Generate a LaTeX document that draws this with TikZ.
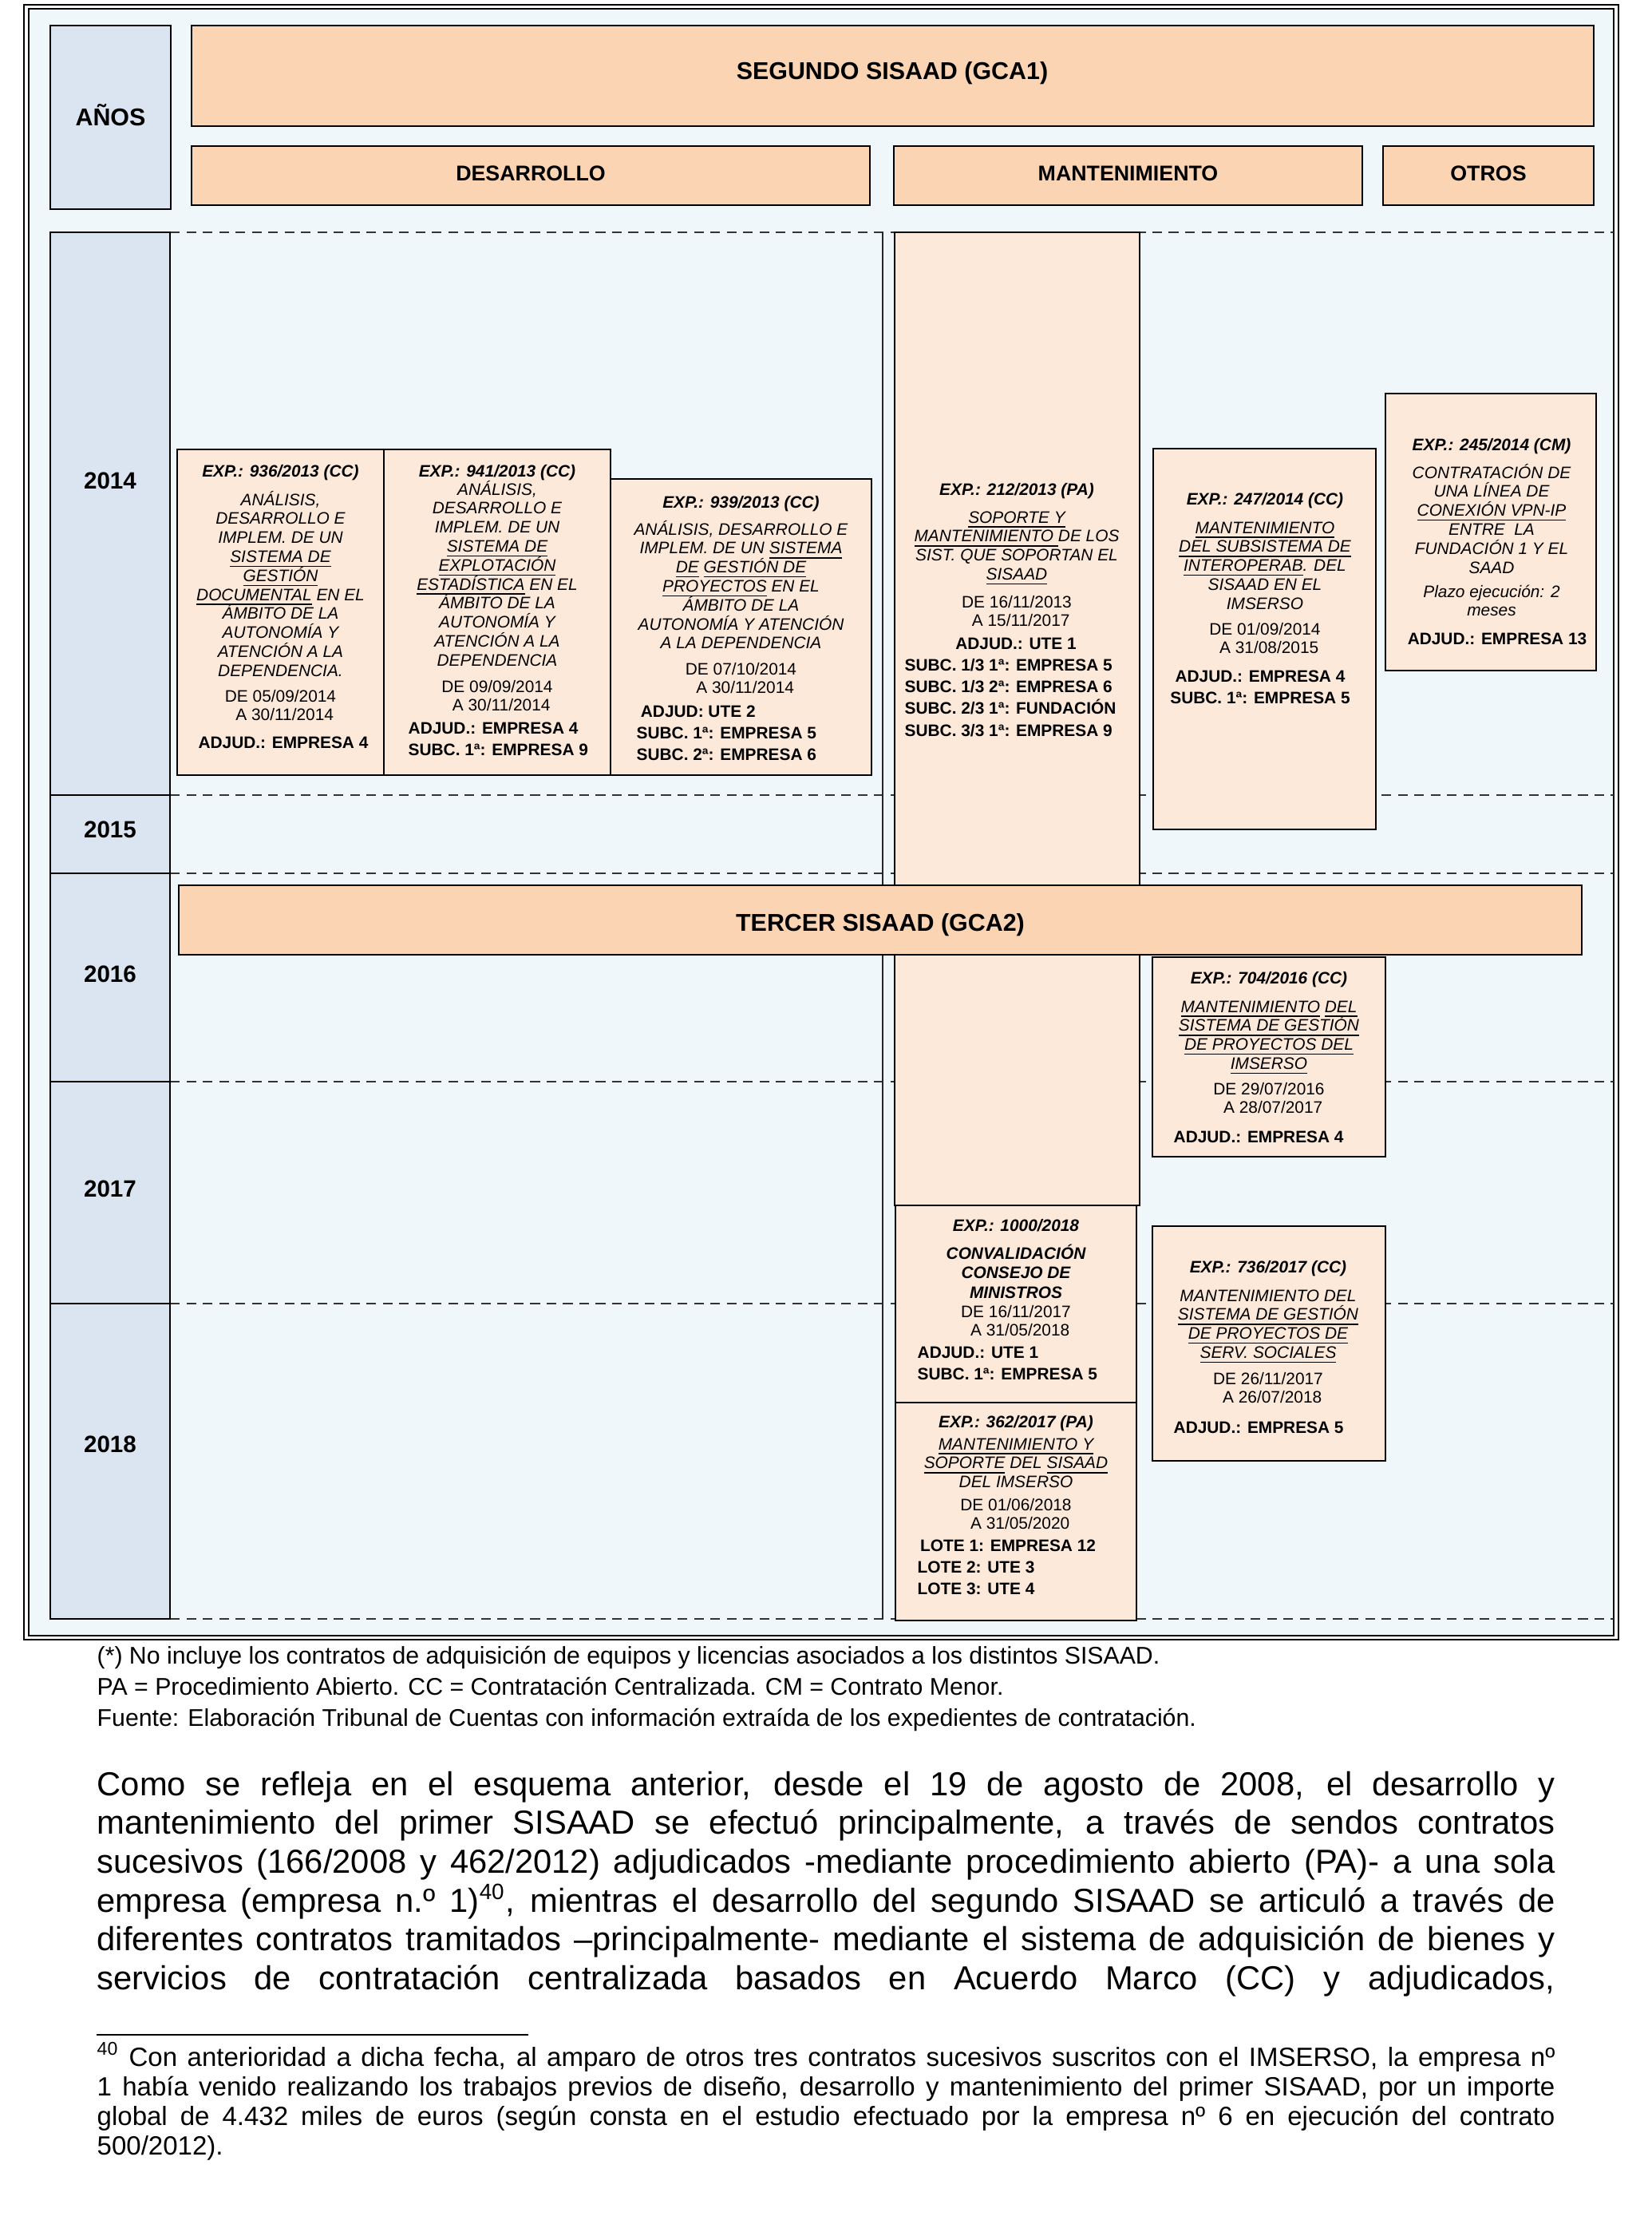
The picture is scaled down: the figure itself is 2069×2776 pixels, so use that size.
\documentclass[tikz,border=0pt]{standalone}
\usepackage{fontspec}
\setmainfont{Liberation Sans}
\usetikzlibrary{fit}
\definecolor{bgblue}{RGB}{239,247,250}
\definecolor{yrblue}{RGB}{219,229,241}
\definecolor{hdrpeach}{RGB}{251,212,180}
\definecolor{boxpeach}{RGB}{253,233,217}
\newcommand\uln[1]{\underline{#1}}
\newcommand\cgrp[1]{\parbox[t]{130pt}{\lineskiplimit=-20pt\centering #1}}
\newcommand\lgrp[1]{\parbox[t]{130pt}{\lineskiplimit=-20pt\raggedright #1}}
\newcommand\bxf{\fontsize{6}{6.85}\selectfont}
\newcommand\bbf{\fontsize{6}{7.9}\selectfont\bfseries}
\newcommand\ind{\hspace*{3pt}}
\begin{document}
\begin{tikzpicture}[x=0.28758pt,y=-0.28758pt,
 hdrbox/.style={draw=black, line width=0.6pt, fill=hdrpeach, inner sep=0pt},
 yrbox/.style={draw=black, line width=0.55pt, fill=yrblue, inner sep=0pt},
 ctrbox/.style={draw=black, line width=0.75pt, fill=boxpeach, inner sep=0pt},
 ttl/.style={inner sep=0pt, anchor=base, font=\fontsize{8.75}{10}\selectfont\bfseries},
 subttl/.style={inner sep=0pt, anchor=base, font=\fontsize{7.7}{9}\selectfont\bfseries},
 yrtxt/.style={inner sep=0pt, anchor=base, font=\fontsize{8.5}{10}\selectfont\bfseries},
 exptxt/.style={inner sep=0pt, anchor=base, font=\bxf\bfseries\itshape},
 dsc/.style={inner sep=0pt, anchor=base, font=\bxf\itshape},
 dscb/.style={inner sep=0pt, anchor=base, font=\fontsize{6}{7.05}\selectfont\bfseries\itshape},
 dts/.style={inner sep=0pt, anchor=base, font=\bxf},
 adj/.style={inner sep=0pt, anchor=base, font=\bbf},
 adjl/.style={inner sep=0pt, anchor=base west, font=\bbf},
 gridline/.style={draw=black!80, line width=0.6pt, dash pattern=on 3.5pt off 2.4pt},
 plain/.style={inner sep=0pt, anchor=base west},
]
\useasboundingbox (0,0) rectangle (2069,2776);
\fill[white] (0,0) rectangle (2069,2776);
% frame
\fill[bgblue] (36,11) rectangle (2022,2049);
\draw[line width=0.7pt] (30,6) rectangle (2028,2054);
\draw[line width=0.45pt] (36,11) rectangle (2022,2049);
% grid
\foreach \yy in {291,996,1094,1355,1633,2028} \draw[gridline] (213,\yy) -- (2022,\yy);
\draw[line width=0.5pt, black!85] (1106,291) -- (1106,2028);
% years
\node[yrbox, fit={(63,32) (214,262)}] (anos) {};
\node[yrbox, fit={(63,291) (213,996)}] (y14) {};
\node[yrbox, fit={(63,996) (213,1094)}] (y15) {};
\node[yrbox, fit={(63,1094) (213,1355)}] (y16) {};
\node[yrbox, fit={(63,1355) (213,1633)}] (y17) {};
\node[yrbox, fit={(63,1633) (213,2028)}] (y18) {};
\node[ttl] (tanos) at (138.5,157) {AÑOS};
\node[yrtxt] (t14) at (138,612) {2014};
\node[yrtxt] (t15) at (138,1049) {2015};
\node[yrtxt] (t16) at (138,1230) {2016};
\node[yrtxt] (t17) at (138,1499) {2017};
\node[yrtxt] (t18) at (138,1819) {2018};
% headers
\node[hdrbox, fit={(240,32) (1997,158)}] (seg) {};
\node[hdrbox, fit={(240,183) (1090,257)}] (des) {};
\node[hdrbox, fit={(1120,183) (1707,257)}] (man) {};
\node[hdrbox, fit={(1733,183) (1997,257)}] (otr) {};
\node[ttl] (tseg) at (1118,99) {SEGUNDO SISAAD (GCA1)};
\node[subttl] (tdes) at (665,226) {DESARROLLO};
\node[subttl] (tman) at (1413.5,226) {MANTENIMIENTO};
\node[subttl] (totr) at (1865,226) {OTROS};
% contract boxes
\node[ctrbox, fit={(222,563) (481,971)}] (b936) {};
\node[ctrbox, fit={(481,563) (765,971)}] (b941) {};
\node[ctrbox, fit={(765,600) (1092,971)}] (b939) {};
\node[ctrbox, fit={(1121,291) (1428,1510)}] (b212) {};
\node[ctrbox, fit={(1445,562) (1724,1039)}] (b247) {};
\node[ctrbox, fit={(1736,493) (2000,840)}] (b245) {};
\node[ctrbox, fit={(1444,1199) (1736,1449)}] (b704) {};
\node[ctrbox, fit={(1122,1510) (1424,1757)}] (b1000) {};
\node[ctrbox, fit={(1122,1757) (1424,2030)}] (b362) {};
\node[ctrbox, fit={(1444,1536) (1736,1830)}] (b736) {};
\node[hdrbox, fit={(224,1109) (1982,1196)}] (ter) {};
\node[ttl] (tter) at (1103,1166) {TERCER SISAAD (GCA2)};
% 936
\node[exptxt] (e936) at (351.5,597) {EXP.: 936/2013 (CC)};
\node[dsc] (d936) at (351.5,633) {\cgrp{ANÁLISIS,\\ DESARROLLO E\\ IMPLEM. DE UN\\ \uln{SISTEMA DE}\\ \uln{GESTIÓN}\\ \uln{DOCUMENTAL} EN EL\\ ÁMBITO DE LA\\ AUTONOMÍA Y\\ ATENCIÓN A LA\\ DEPENDENCIA.}};
\node[dts] (f936) at (351.5,879) {\cgrp{DE 05/09/2014\\ \ind A 30/11/2014}};
\node[adj] (a936) at (355,937) {ADJUD.: EMPRESA 4};
% 941
\node[exptxt] (e941) at (623,597) {EXP.: 941/2013 (CC)};
\node[dsc] (d941) at (623,620) {\cgrp{ANÁLISIS,\\ DESARROLLO E\\ IMPLEM. DE UN\\ \uln{SISTEMA DE}\\ \uln{EXPLOTACIÓN}\\ \uln{ESTADÍSTICA} EN EL\\ ÁMBITO DE LA\\ AUTONOMÍA Y\\ ATENCIÓN A LA\\ DEPENDENCIA}};
\node[dts] (f941) at (623,867) {\cgrp{DE 09/09/2014\\ \ind A 30/11/2014}};
\node[adjl] (a941) at (511,919) {\lgrp{ADJUD.: EMPRESA 4\\ SUBC. 1ª: EMPRESA 9}};
% 939
\node[exptxt] (e939) at (928.5,636) {EXP.: 939/2013 (CC)};
\node[dsc] (d939) at (928.5,670) {\cgrp{ANÁLISIS, DESARROLLO E\\ IMPLEM. DE UN \uln{SISTEMA}\\ \uln{DE} \uln{GESTIÓN DE}\\ \uln{PROYECTOS} EN EL\\ ÁMBITO DE LA\\ AUTONOMÍA Y ATENCIÓN\\ A LA DEPENDENCIA}};
\node[dts] (f939) at (928.5,845) {\cgrp{DE 07/10/2014\\ \ind A 30/11/2014}};
\node[adjl] (a939) at (797,898) {\lgrp{\hspace*{1.5pt}ADJUD: UTE 2\\ SUBC. 1ª: EMPRESA 5\\ SUBC. 2ª: EMPRESA 6}};
% 212
\node[exptxt] (e212) at (1274,620) {EXP.: 212/2013 (PA)};
\node[dsc] (d212) at (1274,655) {\cgrp{\uln{SOPORTE Y}\\ \uln{MANTENIMIENTO\ }DE LOS\\ SIST. QUE SOPORTAN EL\\ \uln{SISAAD}}};
\node[dts] (f212) at (1274,761) {\cgrp{DE 16/11/2013\\ \ind A 15/11/2017}};
\node[adj] (a212) at (1273,813) {ADJUD.: UTE 1};
\node[adjl] (s212) at (1133,840) {\lgrp{SUBC. 1/3 1ª: EMPRESA 5\\ SUBC. 1/3 2ª: EMPRESA 6\\ SUBC. 2/3 1ª: FUNDACIÓN\\ SUBC. 3/3 1ª: EMPRESA 9}};
% 247
\node[exptxt] (e247) at (1585,632) {EXP.: 247/2014 (CC)};
\node[dsc] (d247) at (1585,668) {\cgrp{\uln{MANTENIMIENTO}\\ \uln{DEL SUBSISTEMA DE}\\ \uln{INTEROPERAB}. DEL\\ SISAAD EN EL\\ IMSERSO}};
\node[dts] (f247) at (1585,795) {\cgrp{DE 01/09/2014\\ \ind A 31/08/2015}};
\node[adj] (a247) at (1579,854) {\cgrp{ADJUD.: EMPRESA 4\\ SUBC. 1ª: EMPRESA 5}};
% 245
\node[exptxt] (e245) at (1869,564) {EXP.: 245/2014 (CM)};
\node[dsc] (d245) at (1869,599) {\cgrp{CONTRATACIÓN DE\\ UNA LÍNEA DE\\ \uln{CONEXIÓN VPN-IP}\\ ENTRE\ \ LA\\ FUNDACIÓN 1 Y EL\\ SAAD}};
\node[dsc] (p245) at (1869,748) {\cgrp{Plazo ejecución: 2\\ meses}};
\node[adj] (a245) at (1876,807) {ADJUD.: EMPRESA 13};
% 704
\node[exptxt] (e704) at (1590,1232) {EXP.: 704/2016 (CC)};
\node[dsc] (d704) at (1590,1268) {\cgrp{\uln{MANTENIMIENTO} \uln{DEL}\\ \uln{SISTEMA DE GESTIÓN}\\ \uln{DE PROYECTOS DEL}\\ \uln{IMSERSO}}};
\node[dts] (f704) at (1590,1371) {\cgrp{DE 29/07/2016\\ \ind A 28/07/2017}};
\node[adjl] (a704) at (1470,1431) {ADJUD.: EMPRESA 4};
% 1000
\node[exptxt] (e1000) at (1273,1542) {EXP.: 1000/2018};
\node[dscb] (d1000) at (1273,1577) {\cgrp{CONVALIDACIÓN\\ CONSEJO DE\\ MINISTROS}};
\node[dts] (f1000) at (1273,1650) {\cgrp{DE 16/11/2017\\ \ind A 31/05/2018}};
\node[adjl] (a1000) at (1149,1701) {\lgrp{ADJUD.: UTE 1\\ SUBC. 1ª: EMPRESA 5}};
% 362
\node[exptxt] (e362) at (1273,1788) {EXP.: 362/2017 (PA)};
\node[dsc] (d362) at (1273,1816) {\cgrp{\uln{MANTENIMIENTO Y}\\ \uln{SOPORTE} DEL \uln{SISAAD}\\ DEL IMSERSO}};
\node[dts] (f362) at (1273,1892) {\cgrp{DE 01/06/2018\\ \ind A 31/05/2020}};
\node[adjl] (a362) at (1149,1943) {\lgrp{\hspace*{1pt}LOTE 1: EMPRESA 12\\ LOTE 2: UTE 3\\ LOTE 3: UTE 4}};
% 736
\node[exptxt] (e736) at (1589,1594) {EXP.: 736/2017 (CC)};
\node[dsc] (d736) at (1589,1630) {\cgrp{MANTENIMIENTO DEL\\ \uln{SISTEMA DE GESTIÓN}\\ \uln{DE PROYECTOS DE}\\ \uln{SERV. SOCIALES}}};
\node[dts] (f736) at (1589,1734) {\cgrp{DE 26/11/2017\\ \ind A 26/07/2018}};
\node[adjl] (a736) at (1470,1795) {ADJUD.: EMPRESA 5};
% notes
\node[plain, font=\fontsize{8.7}{11.35}\selectfont] (notes) at (121,2084) {\parbox[t]{520pt}{(*) No incluye los contratos de adquisición de equipos y licencias asociados a los distintos SISAAD.\\ PA = Procedimiento Abierto. CC = Contratación Centralizada. CM = Contrato Menor.\\ Fuente: Elaboración Tribunal de Cuentas con información extraída de los expedientes de contratación.}};
% body
\node[plain, font=\fontsize{12}{14}\selectfont] (body) at (121,2249) {\parbox[t]{525.4pt}{\lineskiplimit=-20pt%
\makebox[525.4pt][s]{Como se refleja en el esquema anterior, desde el 19 de agosto de 2008, el desarrollo y}\\
\makebox[525.4pt][s]{mantenimiento del primer SISAAD se efectuó principalmente, a través de sendos contratos}\\
\makebox[525.4pt][s]{sucesivos (166/2008 y 462/2012) adjudicados -mediante procedimiento abierto (PA)- a una sola}\\
\makebox[525.4pt][s]{empresa (empresa n.º 1)\textsuperscript{40}, mientras el desarrollo del segundo SISAAD se articuló a través de}\\
\makebox[525.4pt][s]{diferentes contratos tramitados –principalmente- mediante el sistema de adquisición de bienes y}\\
\makebox[525.4pt][s]{servicios de contratación centralizada basados en Acuerdo Marco (CC) y adjudicados,}}};
% footnote
\coordinate (rulea) at (121,2549);
\coordinate (ruleb) at (662,2549);
\draw[line width=0.6pt] (rulea) -- (ruleb);
\node[plain, font=\fontsize{9.5}{10.7}\selectfont] (fn) at (121,2588) {\parbox[t]{525.4pt}{\lineskiplimit=-20pt%
\makebox[525.4pt][s]{\textsuperscript{40} Con anterioridad a dicha fecha, al amparo de otros tres contratos sucesivos suscritos con el IMSERSO, la empresa nº}\\
\makebox[525.4pt][s]{1 había venido realizando los trabajos previos de diseño, desarrollo y mantenimiento del primer SISAAD, por un importe}\\
\makebox[525.4pt][s]{global de 4.432 miles de euros (según consta en el estudio efectuado por la empresa nº 6 en ejecución del contrato}\\
500/2012).}};
\end{tikzpicture}
\end{document}
